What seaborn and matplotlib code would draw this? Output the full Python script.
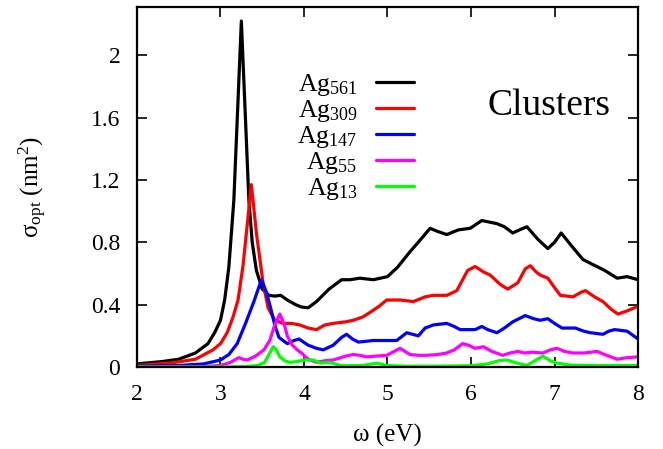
import matplotlib
matplotlib.use("Agg")
import matplotlib.pyplot as plt
import seaborn as sns
import pandas as pd

# spectra (omega in eV, sigma in nm^2)
x561 = [2.0, 2.3, 2.5, 2.7, 2.85, 2.93, 3.0, 3.05, 3.10, 3.16, 3.21, 3.25, 3.29, 3.34, 3.38, 3.43,
        3.5, 3.58, 3.65, 3.72, 3.8, 3.9, 3.97, 4.05, 4.15, 4.3, 4.45, 4.55, 4.67, 4.83, 5.0, 5.12,
        5.27, 5.4, 5.51, 5.6, 5.71, 5.85, 5.99, 6.13, 6.31, 6.4, 6.5, 6.58, 6.67, 6.8, 6.92, 7.0,
        7.08, 7.2, 7.34, 7.45, 7.6, 7.75, 7.87, 8.0]
y561 = [0.02, 0.035, 0.05, 0.09, 0.15, 0.22, 0.30, 0.43, 0.64, 1.07, 1.71, 2.22, 1.71, 1.07, 0.80, 0.62,
        0.50, 0.46, 0.455, 0.46, 0.43, 0.40, 0.385, 0.38, 0.42, 0.50, 0.56, 0.56, 0.57, 0.56, 0.58, 0.64,
        0.74, 0.82, 0.89, 0.87, 0.85, 0.88, 0.89, 0.94, 0.92, 0.90, 0.86, 0.88, 0.90, 0.82, 0.76, 0.80,
        0.86, 0.78, 0.69, 0.66, 0.62, 0.57, 0.58, 0.56]

x309 = [2.0, 2.4, 2.7, 2.91, 3.0, 3.08, 3.15, 3.21, 3.27, 3.31, 3.37, 3.43, 3.51, 3.57, 3.65, 3.75,
        3.85, 3.95, 4.05, 4.15, 4.25, 4.35, 4.5, 4.59, 4.7, 4.79, 4.9, 4.99, 5.15, 5.31, 5.45, 5.55,
        5.71, 5.83, 5.96, 6.05, 6.15, 6.23, 6.35, 6.44, 6.56, 6.65, 6.71, 6.78, 6.83, 6.92, 7.0, 7.07,
        7.22, 7.32, 7.37, 7.48, 7.58, 7.68, 7.76, 7.87, 8.0]
y309 = [0.01, 0.025, 0.05, 0.11, 0.15, 0.22, 0.32, 0.43, 0.65, 0.86, 1.17, 0.86, 0.54, 0.38, 0.30, 0.28,
        0.28, 0.27, 0.25, 0.24, 0.27, 0.28, 0.29, 0.30, 0.32, 0.35, 0.39, 0.43, 0.43, 0.42, 0.45, 0.46,
        0.46, 0.49, 0.62, 0.645, 0.61, 0.59, 0.53, 0.50, 0.54, 0.63, 0.65, 0.61, 0.59, 0.57, 0.51, 0.46,
        0.45, 0.48, 0.49, 0.45, 0.42, 0.37, 0.34, 0.36, 0.39]

x147 = [2.0, 2.5, 2.8, 3.0, 3.1, 3.2, 3.3, 3.4, 3.49, 3.55, 3.6, 3.65, 3.7, 3.8, 3.88, 3.94,
        4.05, 4.15, 4.23, 4.35, 4.45, 4.51, 4.58, 4.65, 4.83, 5.0, 5.11, 5.23, 5.3, 5.37, 5.45, 5.55,
        5.71, 5.8, 5.87, 5.96, 6.05, 6.13, 6.2, 6.31, 6.4, 6.5, 6.65, 6.75, 6.83, 6.92, 7.0, 7.09,
        7.25, 7.35, 7.43, 7.58, 7.65, 7.72, 7.87, 8.0]
y147 = [0.005, 0.01, 0.02, 0.045, 0.08, 0.15, 0.28, 0.42, 0.56, 0.48, 0.38, 0.27, 0.19, 0.15, 0.17, 0.18,
        0.14, 0.12, 0.11, 0.14, 0.19, 0.21, 0.18, 0.16, 0.17, 0.17, 0.17, 0.22, 0.21, 0.20, 0.25, 0.27,
        0.28, 0.26, 0.24, 0.24, 0.24, 0.26, 0.24, 0.22, 0.25, 0.29, 0.33, 0.31, 0.30, 0.31, 0.28, 0.25,
        0.25, 0.23, 0.22, 0.21, 0.23, 0.24, 0.23, 0.18]

x55 = [2.0, 2.8, 3.0, 3.12, 3.22, 3.27, 3.32, 3.42, 3.52, 3.59, 3.65, 3.71, 3.76, 3.8, 3.86, 3.92,
       3.97, 4.05, 4.15, 4.25, 4.35, 4.5, 4.59, 4.67, 4.75, 4.87, 4.99, 5.08, 5.15, 5.21, 5.27, 5.37,
       5.47, 5.6, 5.71, 5.8, 5.9, 5.97, 6.05, 6.15, 6.25, 6.38, 6.47, 6.56, 6.64, 6.73, 6.86, 6.95,
       7.03, 7.12, 7.22, 7.35, 7.51, 7.6, 7.75, 7.87, 8.0]
y55 = [0.0, 0.003, 0.01, 0.03, 0.06, 0.05, 0.045, 0.07, 0.11, 0.17, 0.27, 0.34, 0.28, 0.20, 0.14, 0.11,
       0.09, 0.05, 0.03, 0.04, 0.045, 0.07, 0.08, 0.075, 0.065, 0.07, 0.075, 0.10, 0.12, 0.10, 0.08, 0.075,
       0.075, 0.08, 0.09, 0.11, 0.15, 0.14, 0.12, 0.13, 0.10, 0.075, 0.09, 0.10, 0.09, 0.095, 0.09, 0.11,
       0.12, 0.10, 0.09, 0.09, 0.10, 0.08, 0.05, 0.06, 0.065]

x13 = [2.0, 3.0, 3.3, 3.45, 3.53, 3.58, 3.63, 3.67, 3.71, 3.77, 3.83, 3.92, 4.0, 4.11, 4.2, 4.31,
       4.4, 4.47, 4.7, 4.87, 4.99, 5.2, 5.5, 6.0, 6.2, 6.33, 6.43, 6.55, 6.67, 6.78, 6.86, 6.95,
       7.03, 7.2, 7.5, 8.0]
y13 = [0.0, 0.0, 0.003, 0.01, 0.03, 0.08, 0.13, 0.11, 0.065, 0.04, 0.03, 0.035, 0.045, 0.045, 0.025, 0.03,
       0.015, 0.008, 0.01, 0.025, 0.01, 0.005, 0.005, 0.008, 0.02, 0.04, 0.045, 0.025, 0.01, 0.045, 0.07, 0.04,
       0.025, 0.012, 0.01, 0.01]

labels = ["Ag$_{561}$", "Ag$_{309}$", "Ag$_{147}$", "Ag$_{55}$", "Ag$_{13}$"]
colors = ["#000000", "#ff0000", "#0000ff", "#ff00ff", "#00ff00"]
series = [(x561, y561), (x309, y309), (x147, y147), (x55, y55), (x13, y13)]

sns.set_style("ticks")
plt.rcParams["font.family"] = ["Liberation Serif", "DejaVu Serif"]
plt.rcParams["mathtext.fontset"] = "custom"
plt.rcParams["mathtext.rm"] = "Liberation Serif"
plt.rcParams["mathtext.it"] = "Liberation Serif:italic"
plt.rcParams["text.color"] = "black"
plt.rcParams["axes.labelcolor"] = "black"
plt.rcParams["xtick.color"] = "black"
plt.rcParams["ytick.color"] = "black"
plt.rcParams["axes.edgecolor"] = "black"

fig = plt.figure(figsize=(6.63, 4.49), dpi=100)
ax = fig.add_axes([0.2066, 0.1826, 0.7557, 0.8018])

for (xs, ys), lab, col in zip(series, labels, colors):
    df = pd.DataFrame({"w": xs, "s": ys})
    sns.lineplot(data=df, x="w", y="s", color=col, lw=2.3, label=lab, ax=ax)

ax.set_xlim(2, 8)
ax.set_ylim(0, 2.31)
ax.set_xticks([2, 3, 4, 5, 6, 7, 8])
ax.set_yticks([0, 0.4, 0.8, 1.2, 1.6, 2])
ax.set_yticklabels(["0", "0.4", "0.8", "1.2", "1.6", "2"])
ax.tick_params(direction="in", length=7, width=1.2, labelsize=17, pad=12,
               top=True, right=True)
for sp in ax.spines.values():
    sp.set_linewidth(1.6)
    sp.set_visible(True)

ax.set_xlabel("ω (eV)", fontsize=18, labelpad=14)
ax.set_ylabel("σ$_{\\rm opt}$ (nm$^2$)", fontsize=18, labelpad=30)

leg = ax.legend(loc="upper right", bbox_to_anchor=(0.553, 0.82), frameon=False,
                markerfirst=False, fontsize=18.5, handlelength=1.5, handletextpad=0.7,
                labelspacing=0.0, borderpad=0, borderaxespad=0)

ax.text(0.70, 0.70, "Clusters", transform=ax.transAxes, fontsize=27, va="baseline")

fig.savefig("out.png", dpi=100)
